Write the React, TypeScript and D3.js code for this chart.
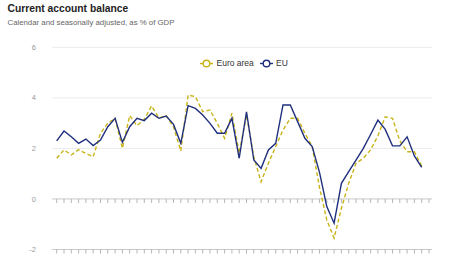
import React from "react";
import * as d3 from "d3";

const categories: string[] = [
  "2010Q1","2010Q2","2010Q3","2010Q4","2011Q1","2011Q2","2011Q3","2011Q4",
  "2012Q1","2012Q2","2012Q3","2012Q4","2013Q1","2013Q2","2013Q3","2013Q4",
  "2014Q1","2014Q2","2014Q3","2014Q4","2015Q1","2015Q2","2015Q3","2015Q4",
  "2016Q1","2016Q2","2016Q3","2016Q4","2017Q1","2017Q2","2017Q3","2017Q4",
  "2018Q1","2018Q2","2018Q3","2018Q4","2019Q1","2019Q2","2019Q3","2019Q4",
  "2020Q1","2020Q2","2020Q3","2020Q4","2021Q1","2021Q2","2021Q3","2021Q4",
  "2022Q1","2022Q2","2022Q3","2022Q4",
];

const euroArea: number[] = [
  1.61, 1.94, 1.74, 1.95, 1.8, 1.67, 2.6, 3.0, 3.19, 2.0,
  3.3, 2.9, 3.15, 3.68, 3.2, 3.3, 2.85, 1.9, 4.11, 4.05,
  3.45, 3.52, 2.99, 2.4, 3.39, 1.81, 3.32, 1.67, 0.68, 1.41,
  2.07, 2.73, 3.19, 3.19, 2.6, 2.07, 0.45, -0.83, -1.55, -0.37,
  0.62, 1.41, 1.61, 1.94, 2.5, 3.25, 3.19, 2.3, 1.87, 1.87,
  1.3,
];

const eu: number[] = [
  2.3, 2.69, 2.46, 2.2, 2.37, 2.11, 2.33, 2.86, 3.19, 2.24,
  2.86, 3.19, 3.1, 3.39, 3.19, 3.28, 2.95, 2.2, 3.69, 3.58,
  3.32, 2.99, 2.6, 2.6, 3.19, 1.61, 3.45, 1.54, 1.21, 1.94,
  2.2, 3.72, 3.72, 3.06, 2.4, 2.07, 1.05, -0.3, -0.96, 0.62,
  1.08, 1.54, 2.0, 2.55, 3.12, 2.75, 2.1, 2.1, 2.46, 1.7,
  1.25,
];

const yTicks: number[] = [-2, 0, 2, 4, 6];

const EU_COLOR = "#1f2f7d";
const EA_COLOR = "#c8b416";

export default function App() {
  const width = 470;
  const height = 255;
  const x = d3.scalePoint<string>().domain(categories).range([56.7, 429]);
  const y = d3.scaleLinear().domain([-2, 6]).range([249.5, 47.3]);
  const gridX0 = 52;
  const gridX1 = 432;

  const line = d3
    .line<number>()
    .x((_, i) => x(categories[i]) as number)
    .y((d) => y(d));

  const font = "'Liberation Sans', Arial, sans-serif";

  return (
    <svg
      width={width}
      height={height}
      style={{ position: "absolute", left: 0, top: 0, background: "#fff" }}
      fontFamily={font}
    >
      <text x={7.5} y={12} fontSize={10.3} fontWeight="bold" fill="#222">
        Current account balance
      </text>
      <text x={7.5} y={25} fontSize={7.8} fill="#666">
        Calendar and seasonally adjusted, as % of GDP
      </text>

      {yTicks.map((t) => (
        <g key={t}>
          <line
            x1={gridX0}
            x2={gridX1}
            y1={y(t)}
            y2={y(t)}
            stroke={t === 0 || t === -2 ? "#c8c8c8" : "#ebebeb"}
            strokeWidth={1}
          />
          <text
            x={36}
            y={y(t)}
            dy="0.35em"
            textAnchor="end"
            fontSize={7.5}
            fill="#999"
          >
            {t}
          </text>
        </g>
      ))}

      {categories.map((c) => (
        <g key={c}>
          <line
            x1={x(c)}
            x2={x(c)}
            y1={y(0)}
            y2={y(0) + 4}
            stroke="#b5b5b5"
            strokeWidth={1}
          />
          <line
            x1={x(c)}
            x2={x(c)}
            y1={y(-2)}
            y2={y(-2) + 4}
            stroke="#b5b5b5"
            strokeWidth={1}
          />
        </g>
      ))}

      <path
        d={line(euroArea) || ""}
        fill="none"
        stroke={EA_COLOR}
        strokeWidth={1.4}
        strokeDasharray="4,2.5"
      />
      <path
        d={line(eu) || ""}
        fill="none"
        stroke={EU_COLOR}
        strokeWidth={1.4}
      />

      <g>
        <line x1={200} x2={213} y1={63.5} y2={63.5} stroke={EA_COLOR} strokeWidth={1.4} strokeDasharray="3,2" />
        <circle cx={206.5} cy={63.5} r={3.3} fill="#fff" stroke={EA_COLOR} strokeWidth={1.4} />
        <text x={216.5} y={63.5} dy="0.35em" fontSize={8.5} fill="#333">
          Euro area
        </text>
        <line x1={260} x2={273} y1={63.5} y2={63.5} stroke={EU_COLOR} strokeWidth={1.4} />
        <circle cx={266.5} cy={63.5} r={3.3} fill="#fff" stroke={EU_COLOR} strokeWidth={1.4} />
        <text x={276} y={63.5} dy="0.35em" fontSize={8.5} fill="#333">
          EU
        </text>
      </g>
    </svg>
  );
}
